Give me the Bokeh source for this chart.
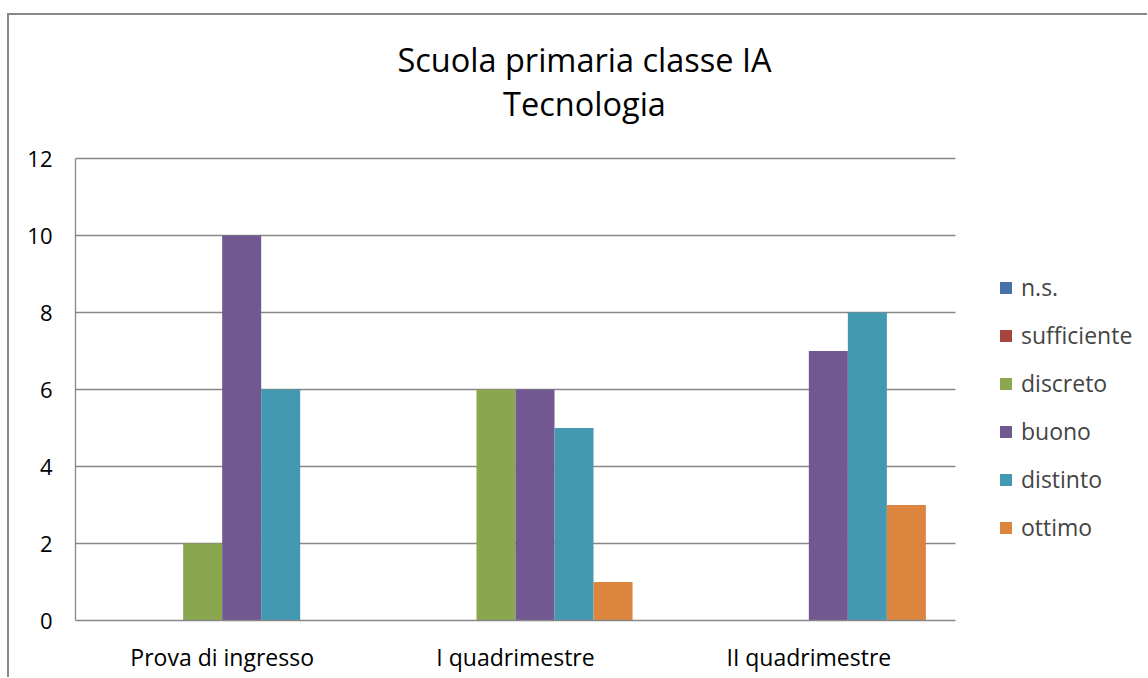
from bokeh.plotting import figure
from bokeh.models import ColumnDataSource, Range1d, Legend, LegendItem, Label, FixedTicker
from bokeh.transform import dodge
from bokeh.embed import file_html
from bokeh.resources import INLINE

periods = ["Prova di ingresso", "I quadrimestre", "II quadrimestre"]
series = ["n.s.", "sufficiente", "discreto", "buono", "distinto", "ottimo"]
ns = [0, 0, 0]
sufficiente = [0, 0, 0]
discreto = [2, 6, 0]
buono = [10, 6, 7]
distinto = [6, 5, 8]
ottimo = [0, 1, 3]
colors = ["#4672a8", "#a8453f", "#8aa64f", "#725891", "#4399b1", "#dc853e"]
yticks = [0, 2, 4, 6, 8, 10, 12]
title_lines = ["Scuola primaria classe IA", "Tecnologia"]

values = [ns, sufficiente, discreto, buono, distinto, ottimo]
xcenters = [i + 0.5 for i in range(len(periods))]
data = {"x": xcenters}
for name, vals in zip(series, values):
    data[name] = vals
src = ColumnDataSource(data)

# layout (pixels)
W, H = 1140, 664
LEFT, BOTTOM = 66, 59
PLOT_W, PLOT_H = 880, 462          # width of the 3 categories, height of 0..12
frame_w, frame_h = W - LEFT, H - BOTTOM
ncat, ymax = len(periods), max(yticks)
x_end = ncat * frame_w / PLOT_W
y_end = ymax * frame_h / PLOT_H

FONT = "Open Sans"
p = figure(x_range=Range1d(0, x_end), y_range=Range1d(0, y_end), width=W, height=H,
           output_backend="svg", toolbar_location=None,
           min_border_left=LEFT, min_border_right=0, min_border_top=0, min_border_bottom=BOTTOM)
p.styles = {"border-left": "2px solid #878787", "border-top": "2px solid #878787",
            "margin-left": "7px", "margin-top": "13px"}

bw = 0.133
items = []
for i, (name, c) in enumerate(zip(series, colors)):
    r = p.vbar(x=dodge("x", (i - 2.5) * bw), top=name, width=bw,
               source=src, fill_color=c, line_color=None)
    items.append(LegendItem(label=name, renderers=[r]))

p.outline_line_color = None
p.xgrid.grid_line_color = None
p.ygrid.grid_line_color = "#878787"
p.ygrid.grid_line_width = 1.3
p.ygrid.cross_bounds = (0, ncat)
p.yaxis.ticker = FixedTicker(ticks=yticks)
p.yaxis.bounds = (0, ymax)
p.xaxis.ticker = FixedTicker(ticks=xcenters)
p.xaxis.major_label_overrides = {xc: lab for xc, lab in zip(xcenters, periods)}
p.xaxis.bounds = (0, ncat)
p.yaxis.axis_line_color = "#878787"
p.yaxis.axis_line_width = 1.3
p.xaxis.axis_line_color = "#878787"
p.xaxis.axis_line_width = 1.3
for ax in (p.xaxis, p.yaxis):
    ax.major_tick_line_color = None
    ax.minor_tick_line_color = None
    ax.major_label_text_font = FONT
    ax.major_label_text_color = "#000000"
p.xaxis.major_label_text_font_size = "23px"
p.yaxis.major_label_text_font_size = "22px"
p.xaxis.major_label_standoff = 14
p.yaxis.major_label_standoff = 17

legend = Legend(items=items, location=(923, 77), label_text_font=FONT,
                label_text_font_size="23px", glyph_width=15, glyph_height=15,
                spacing=16, border_line_color=None, background_fill_alpha=0,
                label_standoff=8, padding=0, margin=0, label_height=30)
p.add_layout(legend, "center")

for txt, yy in zip(title_lines, [561, 517]):
    p.add_layout(Label(x=509, y=yy, x_units="screen", y_units="screen", text=txt,
                       text_align="center", text_baseline="middle", text_font=FONT,
                       text_font_size="32.5px", text_color="#000000"))

open("out.html", "w").write(file_html(p, INLINE))
